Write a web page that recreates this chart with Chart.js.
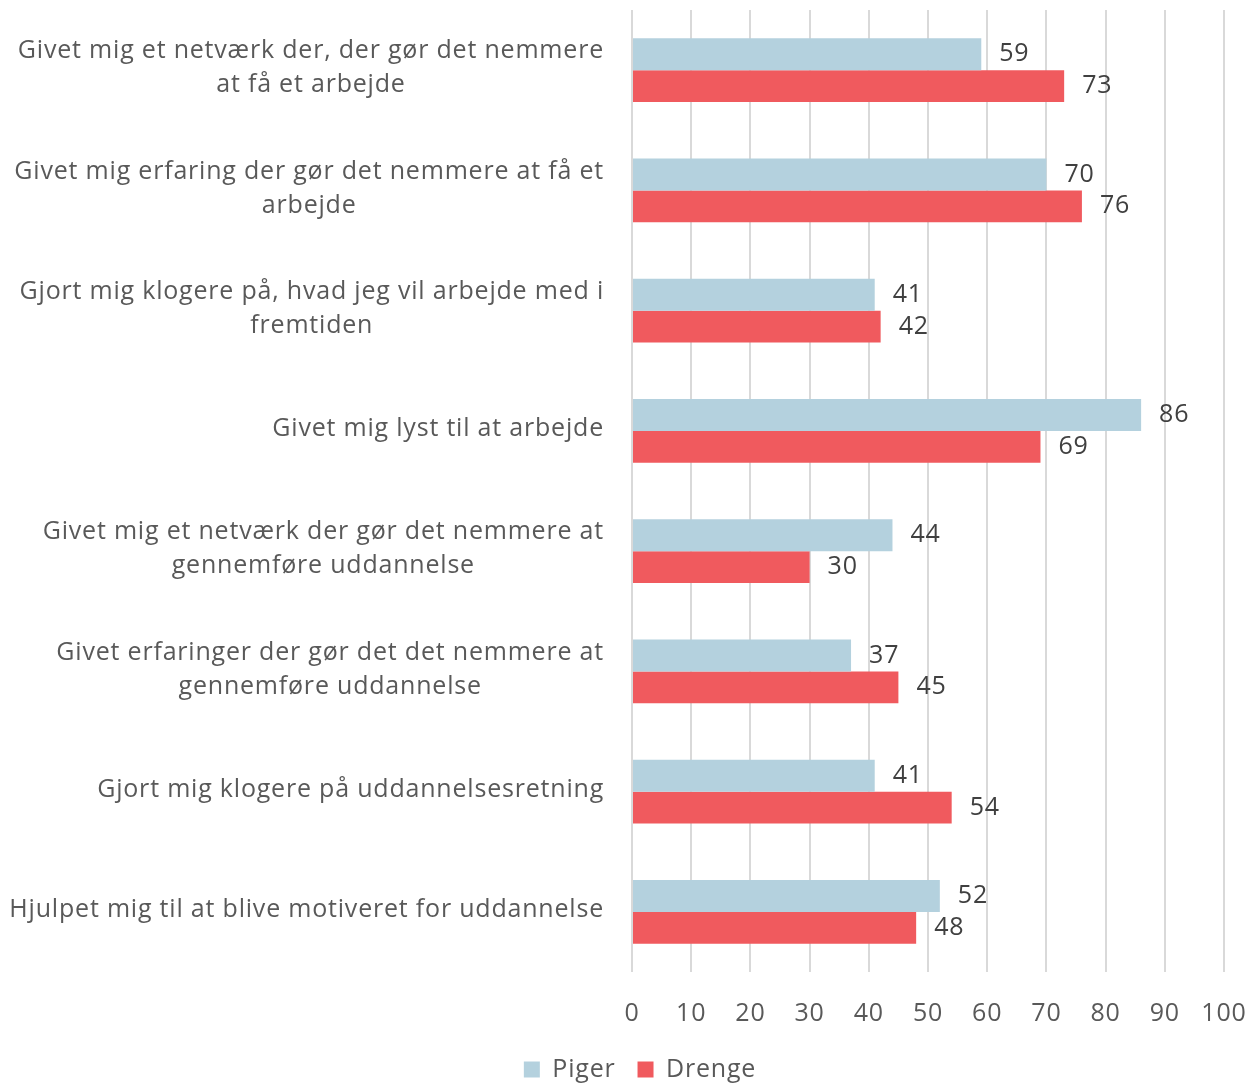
<!DOCTYPE html>
<html>
<head>
<meta charset="utf-8">
<script src="https://cdn.jsdelivr.net/npm/chart.js@4"></script>
<style>
  html, body { margin: 0; padding: 0; background: #fff; }
  #wrap { width: 1259px; height: 1087px; }
</style>
</head>
<body>
<div id="wrap"><canvas id="myChart"></canvas></div>
<script>
// data
const categories = [
  ['Givet mig et netværk der, der gør det nemmere', 'at få et arbejde'],
  ['Givet mig erfaring der gør det nemmere at få et', 'arbejde'],
  ['Gjort mig klogere på, hvad jeg vil arbejde med i', 'fremtiden'],
  ['Givet mig lyst til at arbejde'],
  ['Givet mig et netværk der gør det nemmere at', 'gennemføre uddannelse'],
  ['Givet erfaringer der gør det det nemmere at', 'gennemføre uddannelse'],
  ['Gjort mig klogere på uddannelsesretning'],
  ['Hjulpet mig til at blive motiveret for uddannelse']
];
const piger = [59, 70, 41, 86, 44, 37, 41, 52];
const drenge = [73, 76, 42, 69, 30, 45, 54, 48];
const xTicks = [0, 10, 20, 30, 40, 50, 60, 70, 80, 90, 100];

const FONT = '"Open Sans", sans-serif';
const SPACING = '0.8px';

// wider letter spacing like the original
const spacing = {
  id: 'spacing',
  beforeLayout(chart) { chart.ctx.letterSpacing = SPACING; },
  beforeDraw(chart) { chart.ctx.letterSpacing = SPACING; }
};

// category labels: block right aligned, lines centred inside the block
const yLabels = {
  id: 'yLabels',
  afterDraw(chart) {
    const ctx = chart.ctx;
    const y = chart.scales.y;
    ctx.save();
    ctx.letterSpacing = SPACING;
    ctx.font = '25px ' + FONT;
    ctx.fillStyle = '#595959';
    ctx.textAlign = 'center';
    ctx.textBaseline = 'middle';
    categories.forEach((lines, i) => {
      const cy = y.getPixelForValue(i) - 2;
      let widest = 0;
      lines.forEach(l => { widest = Math.max(widest, ctx.measureText(l).width); });
      const cx = 604 - widest / 2;
      lines.forEach((l, k) => {
        ctx.fillText(l, cx, cy + (k - (lines.length - 1) / 2) * 34);
      });
    });
    ctx.restore();
  }
};

// value labels at the end of the bars
const valueLabels = {
  id: 'valueLabels',
  afterDatasetsDraw(chart) {
    const ctx = chart.ctx;
    ctx.save();
    ctx.letterSpacing = SPACING;
    ctx.font = '25px ' + FONT;
    ctx.fillStyle = '#404040';
    ctx.textAlign = 'left';
    ctx.textBaseline = 'middle';
    chart.data.datasets.forEach((ds, d) => {
      chart.getDatasetMeta(d).data.forEach((bar, i) => {
        ctx.fillText(ds.data[i], bar.x + 18, bar.y);
      });
    });
    ctx.restore();
  }
};

const ctx = document.getElementById('myChart');
const myChart = new Chart(ctx, {
  type: 'bar',
  data: {
    labels: categories.map(c => c.join(' ')),
    datasets: [{
      label: 'Piger',
      data: piger,
      backgroundColor: '#b4d1de',
      categoryPercentage: 0.53,
      barPercentage: 1
    }, {
      label: 'Drenge',
      data: drenge,
      backgroundColor: '#f05a5e',
      categoryPercentage: 0.53,
      barPercentage: 1
    }]
  },
  options: {
    indexAxis: 'y',
    responsive: true,
    maintainAspectRatio: false,
    animation: false,
    layout: { padding: { top: 10, right: 35, left: 56, bottom: -5 } },
    scales: {
      x: {
        min: 0,
        max: 100,
        afterBuildTicks: s => { s.ticks = xTicks.map(v => ({ value: v })); },
        afterFit: s => { s.height = 63; s.paddingLeft = 0; s.paddingRight = 0; },
        grid: { color: '#d9d9d9', lineWidth: 2, drawTicks: false },
        border: { display: false },
        ticks: {
          color: '#595959',
          font: { family: FONT, size: 25 },
          padding: 27,
          maxRotation: 0
        }
      },
      y: {
        grid: { display: false },
        border: { display: false },
        ticks: { display: false },
        afterFit: s => { s.width = 576; }
      }
    },
    plugins: {
      legend: {
        position: 'bottom',
        labels: {
          color: '#595959',
          font: { family: FONT, size: 25 },
          boxWidth: 16,
          boxHeight: 16,
          padding: 22
        }
      },
      tooltip: { enabled: false }
    }
  },
  plugins: [spacing, yLabels, valueLabels]
});
</script>
</body>
</html>
